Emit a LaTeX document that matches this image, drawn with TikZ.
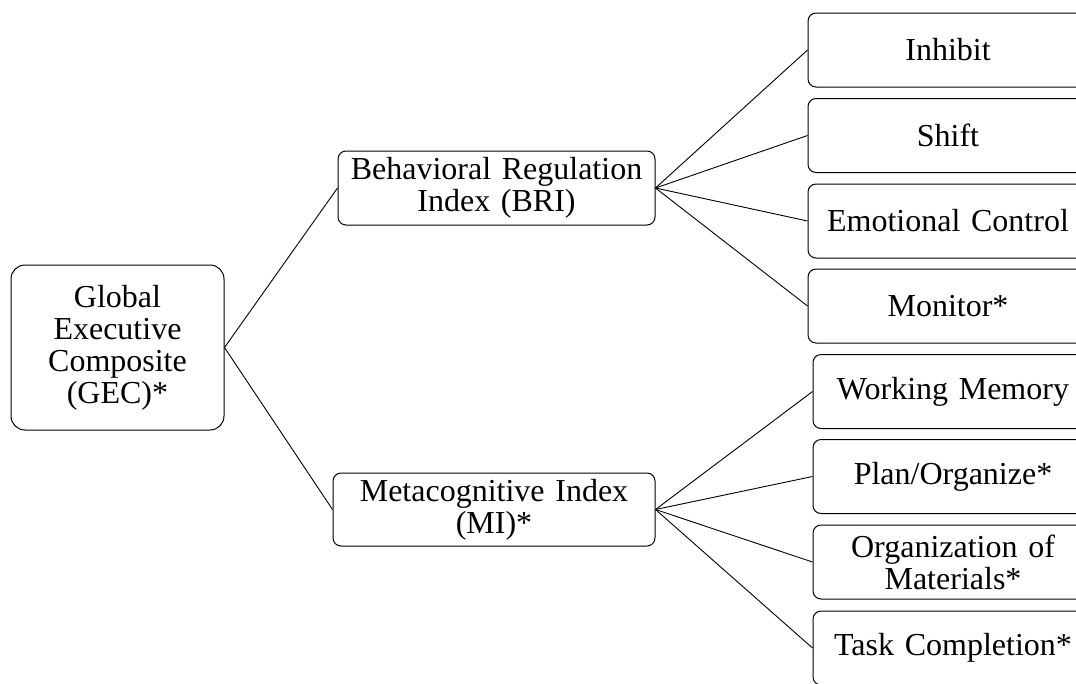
\documentclass[tikz,border=0pt]{standalone}
\usepackage{fontspec}
\setmainfont{Liberation Serif}
\begin{document}
\begin{tikzpicture}[x=1pt,y=-1pt,
  box/.style={draw=black, line width=1pt, rounded corners=8pt, align=center,
    inner sep=0pt, font=\fontsize{32}{32}\selectfont},
  leaf/.style={box, minimum width=280pt, minimum height=74pt, text width=270pt},
  link/.style={draw=black, line width=0.9pt}]
\useasboundingbox (0,0) rectangle (1076,683);
\clip (0,0) rectangle (1076,683);
\node[box, rounded corners=14pt, minimum width=213pt, minimum height=165pt, text width=200pt] (gec) at (117.5,347.5) {Global\\Executive\\Composite\\(GEC)*};
\node[box, minimum width=317pt, minimum height=74pt, text width=310pt] (bri) at (496.5,188) {Behavioral Regulation\\Index (BRI)};
\node[box, minimum width=322pt, minimum height=73pt, text width=315pt] (mi) at (494,509.5) {Metacognitive Index\\(MI)*};
\node[leaf] (inh) at (948,50) {Inhibit};
\node[leaf] (shi) at (948,135.5) {Shift};
\node[leaf] (emo) at (948,221) {Emotional Control};
\node[leaf] (mon) at (948,306) {Monitor*};
\node[leaf] (wm) at (953,391.5) {Working Memory};
\node[leaf] (plan) at (953,476.5) {Plan/Organize*};
\node[leaf] (org) at (953,562) {Organization of\\Materials*};
\node[leaf] (task) at (953,648) {Task Completion*};
\draw[link] (gec.east) -- (bri.west);
\draw[link] (gec.east) -- (mi.west);
\foreach \n in {inh,shi,emo,mon} \draw[link] (bri.east) -- (\n.west);
\foreach \n in {wm,plan,org,task} \draw[link] (mi.east) -- (\n.west);
\end{tikzpicture}
\end{document}
